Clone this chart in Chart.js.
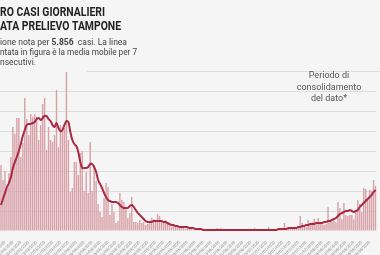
<!DOCTYPE html>
<html>
<head>
<meta charset="utf-8">
<script src="https://cdn.jsdelivr.net/npm/chart.js@4"></script>
<style>
  html, body { margin: 0; padding: 0; background: #f5f5f5; }
  #wrap { position: relative; width: 380px; height: 255px; overflow: hidden; font-family: Roboto, sans-serif; }
  #topline { position: absolute; left: 87px; top: 71px; width: 293px; height: 1px; background: #dddddd; }
  canvas { position: absolute; left: 0; top: 0; }
  .nota { position: absolute; left: 279px; width: 100px; top: 70px; text-align: center; font-size: 9px; line-height: 11.5px; color: #555; }
</style>
</head>
<body>
<div id="wrap">
  <div id="topline"></div>
  <canvas id="grafico" width="380" height="255"></canvas>
  <div class="nota">Periodo di<br>consolidamento<br>del dato*</div>
</div>
<script>
// casi giornalieri per data prelievo
const casiGiornalieri = [
    66, 51, 60, 43, 58, 74, 104, 97, 113, 113, 74, 88, 133, 112, 96, 117, 114, 117, 114, 91,
    106, 127, 133, 81, 104, 91, 89, 96, 141, 84, 106, 101, 103, 159, 91, 39, 43, 69, 69, 56,
    78, 80, 40, 59, 38, 89, 40, 66, 50, 27, 19, 14, 33, 48, 44, 16, 27, 19, 8, 10,
    38, 31, 29, 22, 13, 18, 34, 9, 9, 8, 11, 8, 9, 6, 7, 9, 13, 12, 10, 17,
    15, 11, 8, 11, 7, 6, 4, 5, 4, 4, 4, 3, 4, 2, 3, 2, 2, 1, 2, 1,
    1, 2, 1, 0, 1, 1, 0, 1, 1, 3, 1, 3, 1, 1, 1, 0, 1, 1, 0, 1,
    1, 1, 0, 1, 1, 1, 1, 1, 3, 1, 0, 1, 1, 1, 1, 4, 1, 1, 2, 1,
    2, 1, 2, 8, 2, 4, 2, 3, 2, 4, 3, 15, 8, 6, 4, 11, 6, 9, 12, 8,
    13, 9, 8, 6, 7, 24, 10, 9, 10, 9, 29, 23, 12, 28, 16, 15, 16, 16, 12, 20,
    31, 27, 19, 43, 42, 31, 41, 40, 51, 45
];

// media mobile 7 giorni
const mediaMobile = [
    26, 32, 38, 44, 48, 54, 63, 69, 74, 80, 87, 95, 101, 106, 107, 107, 108, 109, 112, 113,
    111, 113, 115, 115, 112, 110, 106, 104, 108, 103, 100, 101, 106, 110, 109, 99, 91, 87, 85, 79,
    69, 63, 63, 63, 64, 67, 67, 64, 59, 51, 47, 43, 38, 34, 31, 30, 29, 29, 29, 28,
    26, 24, 23, 23, 23, 25, 26, 24, 21, 18, 16, 14, 12, 10, 9, 9, 9, 10, 10, 10,
    10, 10, 9, 9, 8, 7, 6, 6, 5, 5, 4, 4, 4, 4, 4, 3, 3, 3, 2, 2,
    2, 2, 1, 1, 1, 1, 1, 1, 1, 1, 1, 1, 1, 1, 1, 1, 1, 1, 1, 1,
    1, 1, 1, 1, 1, 1, 1, 1, 1, 1, 1, 1, 1, 1, 1, 1, 1, 1, 1, 1,
    2, 2, 2, 2, 2, 3, 3, 3, 3, 3, 4, 4, 5, 5, 6, 6, 7, 7, 7, 8,
    8, 8, 8, 9, 9, 10, 10, 11, 12, 13, 15, 17, 18, 19, 20, 20, 21, 20, 19, 20,
    21, 24, 26, 28, 30, 32, 34, 36, 39, 41
];

// date (una per barra)
const primoGiorno = new Date(2020, 1, 24);
const date = [];
for (let i = 0; i < casiGiornalieri.length; i++) {
    const d = new Date(primoGiorno.getFullYear(), primoGiorno.getMonth(), primoGiorno.getDate() + i);
    const gg = String(d.getDate()).padStart(2, '0');
    const mm = String(d.getMonth() + 1).padStart(2, '0');
    date.push(`${gg}/${mm}/${d.getFullYear()}`);
}

// titolo e sottotitolo (tagliati a sinistra come nell'originale)
const FT = 'bold 12px Roboto';
const FS = '9px Roboto';
const FSB = 'bold 9px Roboto';
const righeTesto = [
    { y: 15.5, w: 105, color: '#222', pezzi: [['RO CASI GIORNALIERI', FT]] },
    { y: 29.5, w: 121, color: '#222', pezzi: [['ATA PRELIEVO TAMPONE', FT]] },
    { y: 45, w: 127, color: '#444', pezzi: [['ione nota per ', FS], ['5.856', FSB], ['  casi. La linea', FS]] },
    { y: 55, w: 137, color: '#444', pezzi: [['ntata in figura è la media mobile per 7', FS]] },
    { y: 65, w: 36, color: '#444', pezzi: [['nsecutivi.', FS]] }
];

const pluginTesti = {
    id: 'testi',
    afterDraw(chart) {
        const c = chart.ctx;
        righeTesto.forEach(r => {
            let tot = 0;
            r.pezzi.forEach(p => { c.font = p[1]; tot += c.measureText(p[0]).width; });
            c.save();
            c.translate(0, r.y);
            c.scale(r.w / tot, 1);
            c.fillStyle = r.color;
            c.textBaseline = 'alphabetic';
            c.textAlign = 'left';
            let x = 0;
            r.pezzi.forEach(p => {
                c.font = p[1];
                c.fillText(p[0], x, 0);
                x += c.measureText(p[0]).width;
            });
            c.restore();
        });
    }
};

const ctx = document.getElementById("grafico").getContext("2d");
const myChart = new Chart(ctx, {
    type: 'bar',
    data: {
        labels: date,
        datasets: [{
            type: 'line',
            label: 'Media mobile 7 giorni',
            data: mediaMobile,
            borderColor: '#a92a42',
            borderWidth: 2,
            pointRadius: 0,
            tension: 0.35,
            order: 0
        },
        {
            label: 'Casi giornalieri',
            data: casiGiornalieri,
            backgroundColor: '#d8a1a8',
            borderWidth: 0,
            barPercentage: 0.72,
            categoryPercentage: 1,
            order: 1
        }]
    },
    options: {
        responsive: false,
        animation: false,
        devicePixelRatio: 1,
        layout: { padding: { top: 71, left: 0, right: 0, bottom: 0 } },
        plugins: {
            legend: { display: false },
            tooltip: { enabled: false }
        },
        scales: {
            x: {
                grid: { display: false },
                border: { display: false },
                afterFit: (scale) => { scale.height = 24; },
                ticks: {
                    autoSkip: false,
                    minRotation: 45,
                    maxRotation: 45,
                    padding: 1,
                    color: '#8a8a8a',
                    font: { size: 4, family: 'Roboto' },
                    callback: function (val, index) {
                        return index % 4 === 2 ? date[index] : '';
                    }
                }
            },
            y: {
                min: 0,
                max: 160,
                border: { display: false },
                afterFit: (scale) => { scale.width = 0; },
                ticks: { display: false, stepSize: 20 },
                grid: {
                    drawTicks: false,
                    lineWidth: 1,
                    color: (c) => (c.tick && (c.tick.value === 0 || c.tick.value === 160)) ? 'rgba(0,0,0,0)' : '#dddddd'
                }
            }
        }
    },
    plugins: [pluginTesti]
});
</script>
</body>
</html>
